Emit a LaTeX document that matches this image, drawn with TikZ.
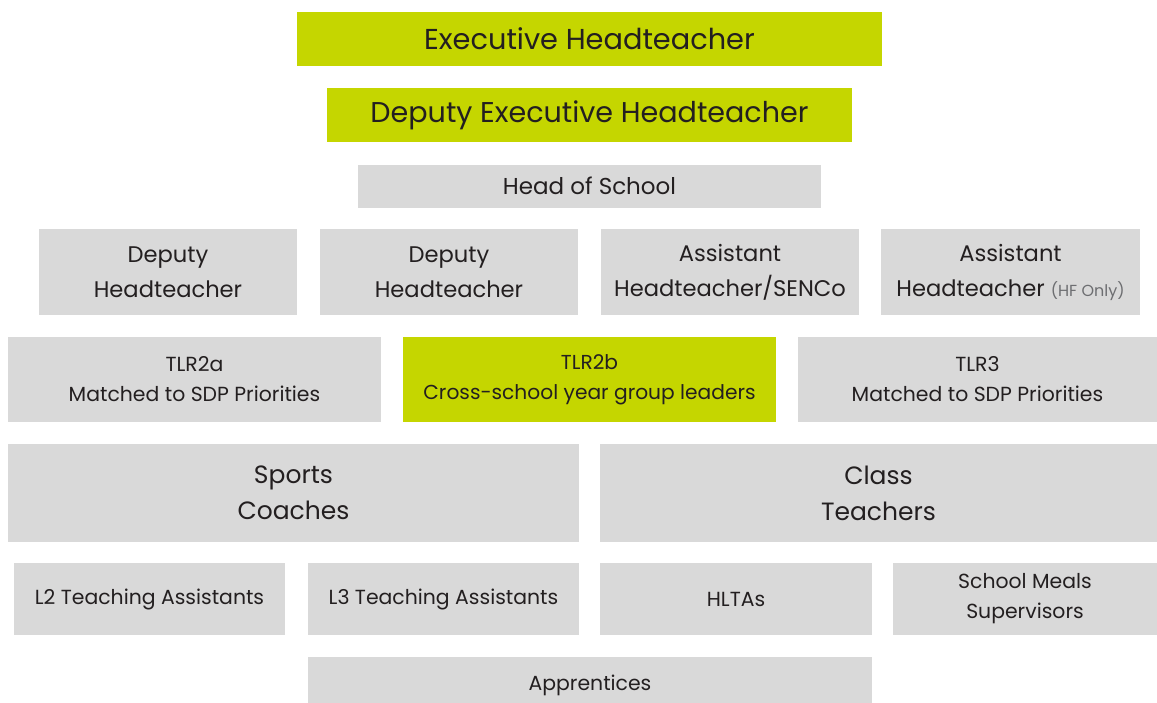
\documentclass[tikz,border=0pt]{standalone}
\usepackage{fontspec}
\setmainfont{Poppins}
\usepackage{tikz}

\definecolor{limegreen}{HTML}{C5D600}
\definecolor{boxgrey}{HTML}{D9D9D9}
\definecolor{inkgrey}{HTML}{231F20}
\definecolor{notegrey}{HTML}{6D6E71}

\begin{document}
\begin{tikzpicture}[x=1pt,y=-1pt]
	\tikzstyle{role}=[rectangle,fill=boxgrey,inner sep=0pt,align=center,text=inkgrey]
	\tikzstyle{lead}=[role,fill=limegreen]
	\useasboundingbox (0,0) rectangle (1157,702);
	
	\node[lead,minimum width=585,minimum height=54,font=\fontsize{28.8}{30}\selectfont] at (589.5,39) (exec) {Executive Headteacher};
	\node[lead,minimum width=525,minimum height=54,font=\fontsize{28.6}{30}\selectfont] at (589.5,115) (depexec) {Deputy Executive Headteacher};
	\node[role,minimum width=463,minimum height=43,font=\fontsize{23}{24}\selectfont] at (589.5,186) (hos) {Head of School};
	
	\node[role,minimum width=258,minimum height=86,font=\fontsize{22.6}{35}\selectfont] at (168,272) (dh1) {Deputy\\Headteacher};
	\node[role,minimum width=258,minimum height=86,font=\fontsize{22.6}{35}\selectfont] at (449,272) (dh2) {Deputy\\Headteacher};
	\node[role,minimum width=258,minimum height=86,font=\fontsize{22.6}{35}\selectfont] at (730,272) (ah1) {Assistant\\Headteacher/SENCo};
	\node[role,minimum width=259,minimum height=86,font=\fontsize{22.6}{35}\selectfont] at (1010.5,272) (ah2) {Assistant\\Headteacher {\color{notegrey}\fontsize{16}{35}\selectfont(HF Only)}};
	
	\node[role,minimum width=373,minimum height=85,font=\fontsize{20.4}{30}\selectfont] at (194.5,379.5) (tlr2a) {TLR2a\\Matched to SDP Priorities};
	\node[lead,minimum width=373,minimum height=85,font=\fontsize{20.2}{30}\selectfont] at (589.5,379.5) (tlr2b) {TLR2b\\Cross-school year group leaders};
	\node[role,minimum width=359,minimum height=85,font=\fontsize{20.4}{30}\selectfont] at (977.5,379.5) (tlr3) {TLR3\\Matched to SDP Priorities};
	
	\node[role,minimum width=571,minimum height=98,font=\fontsize{25}{36}\selectfont] at (293.5,493) (sports) {Sports\\Coaches};
	\node[role,minimum width=557,minimum height=98,font=\fontsize{25}{36}\selectfont] at (878.5,493) (class) {Class\\Teachers};
	
	\node[role,minimum width=271,minimum height=72,font=\fontsize{20.4}{30}\selectfont] at (149.5,599) (l2) {L2 Teaching Assistants};
	\node[role,minimum width=271,minimum height=72,font=\fontsize{20.4}{30}\selectfont] at (443.5,599) (l3) {L3 Teaching Assistants};
	\node[role,minimum width=272,minimum height=72,font=\fontsize{20.4}{30}\selectfont] at (736,599) (hltas) {HLTAs};
	\node[role,minimum width=264,minimum height=72,font=\fontsize{20.4}{30}\selectfont] at (1025,599) (meals) {School Meals\\Supervisors};
	
	\node[role,minimum width=564,minimum height=56,font=\fontsize{20.4}{30}\selectfont] at (590,685) (appr) {Apprentices};
\end{tikzpicture}
\end{document}
